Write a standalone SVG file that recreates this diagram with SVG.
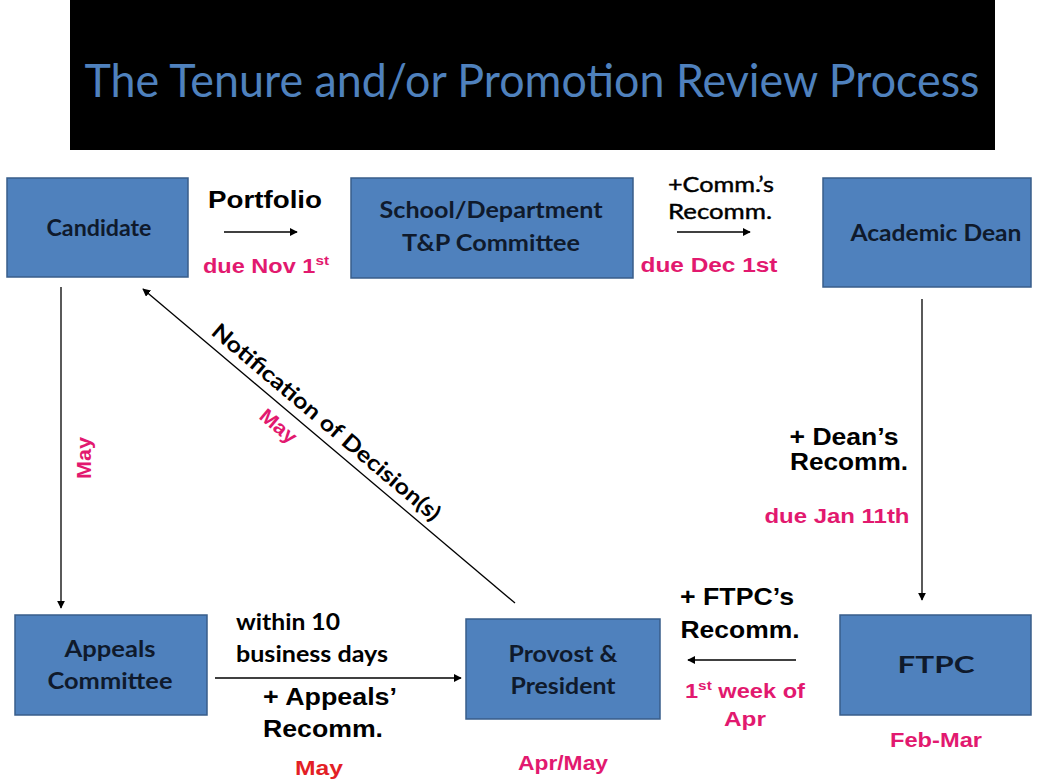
<svg xmlns="http://www.w3.org/2000/svg" width="1040" height="780" viewBox="0 0 1040 780">
<defs>
<marker id="ah" viewBox="0 0 10 10" refX="9" refY="5" markerWidth="8" markerHeight="8" markerUnits="userSpaceOnUse" orient="auto">
<path d="M0,0 L10,5 L0,10 z" fill="#000"/>
</marker>
<style>
.box{fill:#4f81bd;stroke:#385d8a;stroke-width:1.5}
.bt{font-family:Lato,"Open Sans",sans-serif;font-weight:700;font-size:23px;fill:#0f1a2c;text-anchor:middle}
.cal{font-family:Lato,"Open Sans",sans-serif;font-size:22px;fill:#000;stroke:#000;stroke-width:0.45px;text-anchor:middle}
.calb{font-family:Lato,"Open Sans",sans-serif;font-weight:700;font-size:22px;fill:#000}
.ar{font-family:"Liberation Sans",Arial,sans-serif;font-weight:700;font-size:23px;fill:#000;text-anchor:middle}
.mg{font-family:"Liberation Sans",Arial,sans-serif;font-weight:700;font-size:20px;fill:#e2196f;text-anchor:middle}
.rd{font-family:"Liberation Sans",Arial,sans-serif;font-weight:700;font-size:20px;fill:#e31f26;text-anchor:middle}
.conn{stroke:#000;stroke-width:1.3;fill:none}
</style>
</defs>
<rect width="1040" height="780" fill="#fff"/>
<g id="title">
<rect x="70" y="0" width="925" height="150" fill="#000"/>
<text x="532" y="97" font-family="Lato,'Open Sans',sans-serif" font-size="47" fill="#4f81bd" text-anchor="middle" textLength="895" lengthAdjust="spacingAndGlyphs">The Tenure and/or Promotion Review Process</text>
</g>
<g id="connectors">
<line class="conn" x1="224" y1="232" x2="297" y2="232" marker-end="url(#ah)"/>
<line class="conn" x1="677" y1="232" x2="750" y2="232" marker-end="url(#ah)"/>
<line class="conn" x1="61" y1="287" x2="61" y2="608" marker-end="url(#ah)"/>
<line class="conn" x1="922" y1="299" x2="922" y2="600" marker-end="url(#ah)"/>
<line class="conn" x1="215" y1="678" x2="461" y2="678" marker-end="url(#ah)"/>
<line class="conn" x1="796" y1="660" x2="688" y2="660" marker-end="url(#ah)"/>
<line class="conn" x1="515" y1="603" x2="143" y2="289" marker-end="url(#ah)"/>
<text class="ar" x="265" y="208" textLength="114" lengthAdjust="spacingAndGlyphs">Portfolio</text>
<text class="mg" x="266" y="273" textLength="126" lengthAdjust="spacingAndGlyphs">due Nov 1<tspan style="font-size:13px" dy="-8">st</tspan></text>
<text class="cal" x="721" y="192" textLength="106" lengthAdjust="spacingAndGlyphs">+Comm.’s</text>
<text class="cal" x="720" y="219" textLength="104" lengthAdjust="spacingAndGlyphs">Recomm.</text>
<text class="mg" x="709" y="272" textLength="137" lengthAdjust="spacingAndGlyphs">due Dec 1st</text>
<text class="ar" x="844" y="445" textLength="109" lengthAdjust="spacingAndGlyphs">+ Dean’s</text>
<text class="ar" x="849" y="470" textLength="118" lengthAdjust="spacingAndGlyphs">Recomm.</text>
<text class="mg" x="837" y="523" textLength="145" lengthAdjust="spacingAndGlyphs">due Jan 11th</text>
<text class="calb" x="236" y="630" textLength="104" lengthAdjust="spacingAndGlyphs">within 10</text>
<text class="calb" x="236" y="662" textLength="152" lengthAdjust="spacingAndGlyphs">business days</text>
<text class="ar" x="330" y="705" textLength="134" lengthAdjust="spacingAndGlyphs">+ Appeals’</text>
<text class="ar" x="323" y="737" textLength="120" lengthAdjust="spacingAndGlyphs">Recomm.</text>
<text class="rd" x="319" y="775" textLength="48" lengthAdjust="spacingAndGlyphs">May</text>
<text class="ar" x="737" y="605" textLength="114" lengthAdjust="spacingAndGlyphs">+ FTPC’s</text>
<text class="ar" x="740" y="638" textLength="119" lengthAdjust="spacingAndGlyphs">Recomm.</text>
<text class="mg" x="745" y="698" textLength="120" lengthAdjust="spacingAndGlyphs">1<tspan style="font-size:13px" dy="-8">st</tspan><tspan dy="8"> week of</tspan></text>
<text class="mg" x="745" y="726" textLength="42" lengthAdjust="spacingAndGlyphs">Apr</text>
<text class="mg" transform="translate(91,458) rotate(-90)" x="0" y="0" textLength="42" lengthAdjust="spacingAndGlyphs">May</text>
<g transform="translate(143,289) rotate(40.2)">
<text class="calb" x="226" y="-9" text-anchor="middle" textLength="292" lengthAdjust="spacingAndGlyphs">Notification of Decision(s)</text>
<text class="mg" x="192" y="24" textLength="42" lengthAdjust="spacingAndGlyphs">May</text>
</g>
</g>
<g id="candidate">
<rect class="box" x="7" y="178" width="181" height="99"/>
<text class="bt" x="99" y="236" textLength="105" lengthAdjust="spacingAndGlyphs">Candidate</text>
</g>
<g id="school">
<rect class="box" x="351" y="178" width="282" height="100"/>
<text class="bt" x="491" y="218" textLength="223" lengthAdjust="spacingAndGlyphs">School/Department</text>
<text class="bt" x="491" y="251" textLength="178" lengthAdjust="spacingAndGlyphs">T&amp;P Committee</text>
</g>
<g id="dean">
<rect class="box" x="823" y="178" width="208" height="109"/>
<text class="bt" x="936" y="241" textLength="171" lengthAdjust="spacingAndGlyphs">Academic Dean</text>
</g>
<g id="appeals">
<rect class="box" x="15" y="615" width="192" height="100"/>
<text class="bt" x="110" y="657" textLength="91" lengthAdjust="spacingAndGlyphs">Appeals</text>
<text class="bt" x="110" y="689" textLength="125" lengthAdjust="spacingAndGlyphs">Committee</text>
</g>
<g id="provost">
<rect class="box" x="466" y="619" width="194" height="100"/>
<text class="bt" x="563" y="662" textLength="109" lengthAdjust="spacingAndGlyphs">Provost &amp;</text>
<text class="bt" x="563" y="694" textLength="105" lengthAdjust="spacingAndGlyphs">President</text>
<text class="mg" x="563" y="770" textLength="90" lengthAdjust="spacingAndGlyphs">Apr/May</text>
</g>
<g id="ftpc">
<rect class="box" x="840" y="615" width="191" height="100"/>
<text class="bt" x="936" y="673" textLength="77" lengthAdjust="spacingAndGlyphs">FTPC</text>
<text class="mg" x="936" y="747" textLength="92" lengthAdjust="spacingAndGlyphs">Feb-Mar</text>
</g>
</svg>
